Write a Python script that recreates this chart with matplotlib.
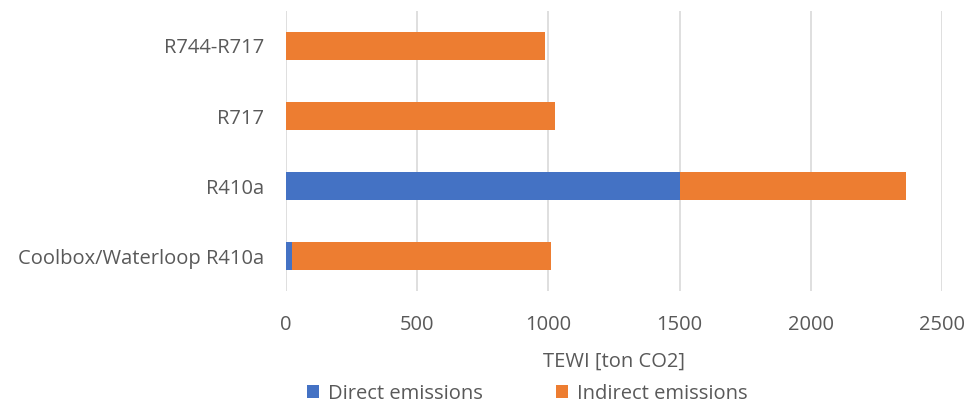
import matplotlib
matplotlib.use("Agg")
import matplotlib.pyplot as plt
import numpy as np

categories = ["Coolbox/Waterloop R410a", "R410a", "R717", "R744-R717"]
direct = [23, 1500, 0, 0]
indirect = [987, 864, 1024, 986]
xticks = [0, 500, 1000, 1500, 2000, 2500]

plt.rcParams["font.family"] = ["Open Sans", "DejaVu Sans"]
text_color = "#595959"
fs = 14.5

fig = plt.figure(figsize=(9.73, 4.05), dpi=100)
ax = fig.add_axes([0.294, 0.281, 0.674, 0.692])

y = np.arange(len(categories))
h = 0.39
ax.barh(y, direct, height=h, color="#4472C4", label="Direct emissions", zorder=3)
ax.barh(y, indirect, left=direct, height=h, color="#ED7D31",
        label="Indirect emissions", zorder=3)

ax.set_xlim(0, 2500)
ax.set_ylim(-0.5, len(categories) - 0.5)
ax.set_xticks(xticks)
ax.set_xticklabels([str(t) for t in xticks])
ax.set_yticks(y)
ax.set_yticklabels(categories)
ax.tick_params(axis="both", length=0, labelsize=fs, colors=text_color)
ax.tick_params(axis="x", pad=17)
ax.tick_params(axis="y", pad=16)
ax.grid(axis="x", color="#d9d9d9", linewidth=1.2, zorder=0)
for s in ax.spines.values():
    s.set_visible(False)

ax.set_xlabel("TEWI [ton CO2]", fontsize=fs, color=text_color, labelpad=12)

leg = fig.legend(loc="center", bbox_to_anchor=(0.542, 0.028), ncol=2, frameon=False,
                 fontsize=fs, handlelength=0.6, handleheight=0.6,
                 handletextpad=0.45, columnspacing=3.6)
for t in leg.get_texts():
    t.set_color(text_color)

fig.savefig("out.png", dpi=100)
